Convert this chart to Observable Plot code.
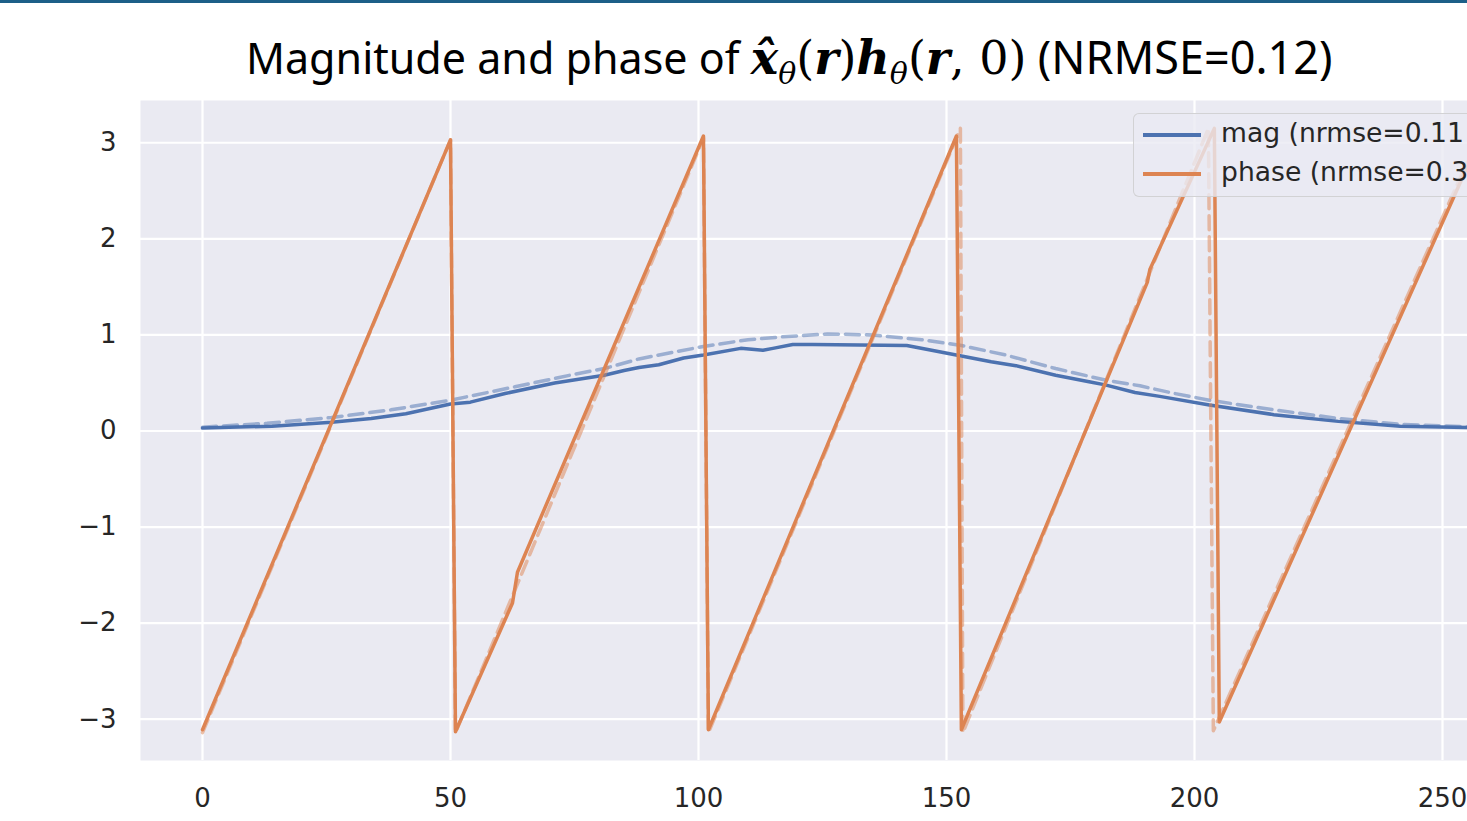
<!DOCTYPE html>
<html>
<head>
<meta charset="utf-8">
<script src="https://cdn.jsdelivr.net/npm/d3@7"></script>
<script src="https://cdn.jsdelivr.net/npm/@observablehq/plot@0.6"></script>
<style>
  html, body { margin: 0; padding: 0; background: #fff; }
  body { width: 1467px; height: 821px; overflow: hidden; position: relative; }
  #bar { position: absolute; left: 0; top: 0; width: 1467px; height: 3px; background: #1d5f88; }
  #title { position: absolute; top: 26px; left: 246px; white-space: nowrap; font-family: "Noto Sans", "Open Sans", sans-serif; font-size: 43px; color: #000; line-height: 62px; }
  #title .m { font-family: "DejaVu Serif", "Liberation Serif", serif; font-size: 46px; }
  #title .n { font-size: 45px; }
  #title .b { font-weight: bold; font-style: italic; }
  #title sub { font-family: "DejaVu Serif", serif; font-style: italic; font-size: 30px; vertical-align: -10px; line-height: 0; }
  #chart { position: absolute; left: 0; top: 95px; }
  #legend { position: absolute; left: 1133px; top: 113px; width: 420px; height: 82px; background: rgba(234,234,242,0.8); border: 1.5px solid rgba(204,204,204,0.8); border-radius: 6px; font-family: "DejaVu Sans", sans-serif; font-size: 26.6px; color: #262626; }
  #legend .row { position: absolute; left: 0; height: 30px; white-space: nowrap; }
  #legend .sw { position: absolute; left: 9px; width: 58px; height: 3.5px; }
  #legend .lb { position: absolute; left: 87px; }
</style>
</head>
<body>
<div id="bar"></div>
<div id="title">Magnitude and phase of <span class="m"><span class="b">x̂</span><sub>θ</sub>(<span class="b">r</span>)<span class="b">h</span><sub>θ</sub>(<span class="b">r</span>, 0)</span> <span class="n">(NRMSE=0.12)</span></div>
<div id="chart"></div>
<div id="legend"></div>
<script>
// ---- data ----
const magX = [0, 14, 26, 34, 41, 50, 54, 61, 71, 81, 85, 88, 92, 97, 101, 108.5, 113, 115, 119, 123, 142, 147, 153, 159, 164, 172, 179, 182, 188, 193, 203, 216, 229, 241.5, 255];
const magY = [0.03, 0.05, 0.09, 0.13, 0.18, 0.28, 0.30, 0.39, 0.50, 0.58, 0.63, 0.66, 0.69, 0.76, 0.79, 0.86, 0.84, 0.86, 0.90, 0.90, 0.89, 0.84, 0.78, 0.72, 0.68, 0.58, 0.51, 0.48, 0.40, 0.36, 0.27, 0.17, 0.10, 0.05, 0.035];

const magTrueX = [0, 13, 26, 38, 50, 63, 75, 81, 88, 101, 110, 117, 126, 135, 145, 153, 162, 172, 182, 189, 196, 203, 216, 229, 241.5, 255];
const magTrueY = [0.04, 0.08, 0.14, 0.22, 0.32, 0.46, 0.59, 0.65, 0.75, 0.88, 0.95, 0.98, 1.01, 1.00, 0.95, 0.89, 0.79, 0.65, 0.53, 0.47, 0.39, 0.32, 0.22, 0.13, 0.07, 0.045];

const phaseX = [0, 50, 51, 62.5, 63.5, 101, 102, 152, 153, 190.5, 191, 204, 205, 255];
const phaseY = [-3.11, 3.03, -3.13, -1.79, -1.47, 3.07, -3.11, 3.07, -3.11, 1.55, 1.68, 3.15, -3.03, 2.75];

const phaseTrueX = [0, 50, 51, 101, 102, 152.8, 153.3, 202.8, 203.8, 255];
const phaseTrueY = [-3.14, 3.03, -3.14, 3.05, -3.14, 3.15, -3.14, 3.15, -3.12, 2.8];

const xTicks = [0, 50, 100, 150, 200, 250];
const yTicks = [-3, -2, -1, 0, 1, 2, 3];

const seriesNames = ["mag (nrmse=0.11", "phase (nrmse=0.3"];
const seriesColors = ["#4C72B0", "#DD8452"];

// ---- build tables ----
const rows = (xs, ys) => xs.map((x, i) => ({x, y: ys[i]}));
const mag = rows(magX, magY);
const magTrue = rows(magTrueX, magTrueY);
const phase = rows(phaseX, phaseY);
const phaseTrue = rows(phaseTrueX, phaseTrueY);

const fmt = d3.format("d");
const lw = 3.5;
const chart = Plot.plot({
  width: 1467,
  height: 726,
  marginLeft: 140,
  marginRight: 0,
  marginTop: 5,
  marginBottom: 61,
  style: { fontFamily: "'DejaVu Sans', sans-serif", color: "#262626", background: "transparent" },
  x: { domain: [-12.5, 255.04] },
  y: { domain: [-3.43, 3.44] },
  marks: [
    Plot.frame({ fill: "#EAEAF2", stroke: null }),
    Plot.gridX(xTicks, { stroke: "#fff", strokeOpacity: 1, strokeWidth: 2.2 }),
    Plot.gridY(yTicks, { stroke: "#fff", strokeOpacity: 1, strokeWidth: 2.2 }),
    Plot.axisX(xTicks, { tickSize: 0, tickPadding: 28, fontSize: 26, fill: "#262626", label: null, tickFormat: fmt }),
    Plot.axisY(yTicks, { tickSize: 0, tickPadding: 24, fontSize: 26, fill: "#262626", label: null, tickFormat: fmt }),
    Plot.line(mag, { x: "x", y: "y", stroke: seriesColors[0], strokeWidth: lw, strokeLinejoin: "round" }),
    Plot.line(magTrue, { x: "x", y: "y", stroke: seriesColors[0], strokeOpacity: 0.5, strokeWidth: lw, strokeDasharray: "14,7" }),
    Plot.line(phase, { x: "x", y: "y", stroke: seriesColors[1], strokeWidth: lw, strokeLinejoin: "round" }),
    Plot.line(phaseTrue, { x: "x", y: "y", stroke: seriesColors[1], strokeOpacity: 0.5, strokeWidth: lw, strokeDasharray: "14,7" })
  ]
});
document.getElementById("chart").appendChild(chart);

// ---- legend ----
const legend = document.getElementById("legend");
seriesNames.forEach((name, i) => {
  const row = document.createElement("div");
  row.className = "row";
  row.style.top = (5 + i * 39) + "px";
  row.innerHTML = `<div class="sw" style="top:14px;background:${seriesColors[i]}"></div><div class="lb" style="top:-2px">${name}</div>`;
  legend.appendChild(row);
});
</script>
</body>
</html>
